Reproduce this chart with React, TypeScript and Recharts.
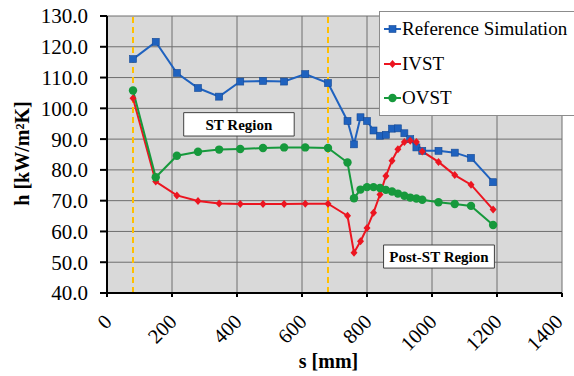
import { LineChart, Line, XAxis, YAxis, CartesianGrid, ReferenceLine, ReferenceArea, Legend } from 'recharts'

const FONT = 'Liberation Serif'

// s positions [mm], shared by all three series
const S_MM = [80, 150, 215, 280, 345, 410, 480, 545, 610, 680, 740, 760, 780, 800, 820, 840, 858, 877, 895, 915, 933, 952, 970, 1020, 1070, 1120, 1188]
const REF_SIM = [116.0, 121.6, 111.5, 106.6, 103.8, 108.7, 108.9, 108.7, 111.1, 108.2, 95.9, 88.3, 97.1, 95.9, 92.8, 91.1, 91.4, 93.4, 93.5, 91.9, 90.0, 87.3, 86.2, 86.2, 85.6, 83.9, 76.0]
const IVST = [103.3, 76.2, 71.7, 69.9, 69.1, 68.9, 68.9, 68.9, 69.0, 69.0, 65.1, 53.1, 56.8, 61.1, 66.1, 72.0, 78.0, 83.0, 86.7, 89.1, 89.5, 89.1, 86.0, 82.6, 78.3, 75.2, 67.1]
const OVST = [105.8, 77.6, 84.6, 85.9, 86.6, 86.8, 87.1, 87.3, 87.3, 87.1, 82.4, 70.8, 73.6, 74.4, 74.4, 74.1, 73.5, 73.0, 72.3, 71.6, 71.0, 70.7, 70.3, 69.5, 68.9, 68.3, 62.1]

const X_TICKS = [0, 200, 400, 600, 800, 1000, 1200, 1400]
const Y_TICKS = [40, 50, 60, 70, 80, 90, 100, 110, 120, 130]
const ST_BOUNDS = [80, 680]

const BLUE = '#1f62bf'
const RED = '#ec1520'
const GREEN = '#16993c'

const data = S_MM.map((s, i) => ({ s, ref: REF_SIM[i], ivst: IVST[i], ovst: OVST[i] }))

const SERIES = [
  { key: 'ref', name: 'Reference Simulation', color: BLUE, shape: 'square' },
  { key: 'ivst', name: 'IVST', color: RED, shape: 'diamond' },
  { key: 'ovst', name: 'OVST', color: GREEN, shape: 'circle' },
]

function Marker({ cx, cy, shape, color }: any) {
  if (cx == null || cy == null) return null
  if (shape === 'square') return <rect x={cx - 3.5} y={cy - 3.5} width={7} height={7} fill={color} stroke="#174a94" strokeWidth={0.6} />
  if (shape === 'diamond') return <polygon points={`${cx},${cy - 4} ${cx + 3.5},${cy} ${cx},${cy + 4} ${cx - 3.5},${cy}`} fill={color} />
  return <circle cx={cx} cy={cy} r={4.2} fill={color} />
}

const XTick = (props: any) => {
  const { x, y, payload } = props
  const ax = x + 6
  const ay = y + 26
  return (
    <text x={ax} y={ay} transform={`rotate(-45 ${ax} ${ay})`} textAnchor="end" fontSize={20.5} fontFamily={FONT} fill="#000">
      {payload.value}
    </text>
  )
}

const regionLabel = (text: string) => (props: any) => {
  const vb = props.viewBox
  return (
    <text x={vb.x + vb.width / 2} y={vb.y + vb.height / 2} dy="0.35em" textAnchor="middle" fontSize={15} fontWeight="bold" fontFamily={FONT} fill="#000">
      {text}
    </text>
  )
}

const LegendBox = () => (
  <div style={{ background: '#fff', borderTop: '1px solid #8c8c8c', borderLeft: '1px solid #8c8c8c', borderBottom: '1px solid #8c8c8c', height: 105, boxSizing: 'border-box', paddingTop: 0, fontFamily: FONT, fontSize: 19, color: '#000' }}>
    {SERIES.map((sr) => (
      <div key={sr.key} style={{ display: 'flex', alignItems: 'center', height: 34.5, whiteSpace: 'nowrap' }}>
        <svg width={22} height={12} style={{ flex: 'none' }}>
          <line x1={4} y1={6} x2={21} y2={6} stroke={sr.color} strokeWidth={2} />
          <Marker cx={12.5} cy={6} shape={sr.shape} color={sr.color} />
        </svg>
        <span>{sr.name}</span>
      </div>
    ))}
  </div>
)

export default function App() {
  return (
    <div style={{ position: 'absolute', left: 0, top: 0, width: 574, height: 376, background: '#fff', overflow: 'hidden' }}>
      <LineChart width={574} height={376} data={data} margin={{ top: 16, right: 12, bottom: 0, left: 0 }}>
        <CartesianGrid stroke="#6e6e6e" strokeWidth={1} fill="#d9d9d9" fillOpacity={1} />
        <XAxis
          dataKey="s"
          type="number"
          domain={[0, 1400]}
          ticks={X_TICKS}
          height={83}
          stroke="#000"
          strokeWidth={2}
          tickSize={4}
          tickMargin={0}
          tick={<XTick />}
          label={(props: any) => {
            const vb = props.viewBox
            return (
              <text x={vb.x + vb.width / 2 - 6} y={368} textAnchor="middle" fontSize={20} fontWeight="bold" fontFamily={FONT} fill="#000">
                s [mm]
              </text>
            )
          }}
        />
        <YAxis
          type="number"
          domain={[40, 130]}
          ticks={Y_TICKS}
          width={107}
          stroke="#000"
          strokeWidth={2}
          tickSize={7}
          tickMargin={12}
          tickFormatter={(v: number) => v.toFixed(1)}
          tick={{ fontSize: 21, fill: '#000', fontFamily: FONT }}
          label={(props: any) => {
            const vb = props.viewBox
            const cx = vb.x + 22
            const cy = vb.y + vb.height / 2 - 1
            return (
              <text x={cx} y={cy} transform={`rotate(-90 ${cx} ${cy})`} textAnchor="middle" dominantBaseline="central" fontSize={20} fontWeight="bold" fontFamily={FONT} fill="#000">
                h [kW/m²K]
              </text>
            )
          }}
        />
        {ST_BOUNDS.map((b) => (
          <ReferenceLine key={b} x={b} stroke="#ffc000" strokeWidth={2} strokeDasharray="6 4" />
        ))}
        <ReferenceArea x1={236} x2={576} y1={91} y2={98.6} fill="#fff" fillOpacity={1} stroke="#404040" strokeWidth={1} label={regionLabel('ST Region')} />
        <ReferenceArea x1={851} x2={1192} y1={48.1} y2={55.6} fill="#fff" fillOpacity={1} stroke="#404040" strokeWidth={1} label={regionLabel('Post-ST Region')} />
        {SERIES.map((sr) => (
          <Line
            key={sr.key}
            dataKey={sr.key}
            name={sr.name}
            type="linear"
            stroke={sr.color}
            strokeWidth={2}
            isAnimationActive={false}
            dot={(p: any) => <Marker key={`${sr.key}-${p.index}`} cx={p.cx} cy={p.cy} shape={sr.shape} color={sr.color} />}
            activeDot={false}
          />
        ))}
        <Legend
          layout="vertical"
          align="center"
          verticalAlign="middle"
          content={() => <LegendBox />}
          wrapperStyle={{ position: 'absolute', left: 379, top: 11, width: 195 }}
        />
      </LineChart>
    </div>
  )
}
